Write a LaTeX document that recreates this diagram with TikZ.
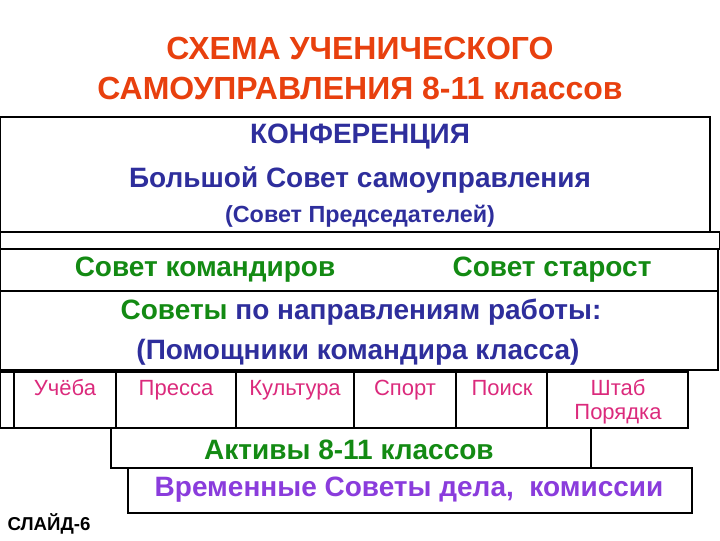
\documentclass[tikz,border=0pt]{standalone}
\usepackage{fontspec}
\setmainfont{Liberation Sans}
\usetikzlibrary{positioning}
\usepackage{xcolor}

\definecolor{titlered}{HTML}{E8400E}
\definecolor{confblue}{HTML}{2E2E9C}
\definecolor{sovgreen}{HTML}{138A13}
\definecolor{cellpink}{HTML}{DB2A7C}
\definecolor{tempviolet}{HTML}{8A3CDC}

\tikzset{
  frame/.style={draw=black, line width=1.2pt},
  heavyframe/.style={draw=black, line width=1.8pt},
  titletext/.style={text=titlered, font=\bfseries\fontsize{24}{28}\selectfont, inner sep=0pt},
  bigtext/.style={font=\bfseries\fontsize{21}{25}\selectfont, inner sep=0pt},
  smalltext/.style={font=\bfseries\fontsize{17.5}{20}\selectfont, inner sep=0pt},
  celltext/.style={text=cellpink, font=\fontsize{16.5}{18}\selectfont, align=center, anchor=base, inner sep=0pt}
}

\begin{document}
\begin{tikzpicture}[x=0.75pt,y=-0.75pt]
\useasboundingbox (0,0) rectangle (720,540);

% Title
\node[titletext] (title1) at (360,48) {СХЕМА УЧЕНИЧЕСКОГО};
\node[titletext] (title2) at (360,88) {САМОУПРАВЛЕНИЯ 8-11 классов};

% Conference box and empty strip
\draw[heavyframe] (0,117) rectangle (710,232);
\draw[frame] (0,232) rectangle (720,249);
\node[bigtext, text=confblue] (konf) at (360,137) {КОНФЕРЕНЦИЯ};
\node[bigtext, text=confblue] (bigsovet) at (360,180) {Большой Совет самоуправления};
\node[smalltext, text=confblue] (predsed) at (360,216) {(Совет Председателей)};

% Councils
\draw[frame] (0,249) rectangle (718,291);
\node[bigtext, text=sovgreen] (komand) at (205,270) {Совет командиров};
\node[bigtext, text=sovgreen] (starost) at (552,270) {Совет старост};

\draw[frame] (0,291) rectangle (718,370);
\node[bigtext, text=confblue] (napravl) at (361,312) {\textcolor{sovgreen}{Советы} по направлениям работы:};
\node[bigtext, text=confblue] (pomosh) at (358,352) {(Помощники командира класса)};

% Row of directions
\draw[heavyframe] (0,372) rectangle (688,428);
\foreach \x in {14,116,236,354,456,547}
  \draw[frame] (\x,372) -- (\x,428);
\foreach \cx/\cy/\nm/\txt in {65/395/ucheba/Учёба, 176/395/pressa/Пресса, 295/395/kultura/Культура,
    405/395/sport/Спорт, 502/395/poisk/Поиск, 618/419/shtab/{Штаб\\Порядка}}
  \node[celltext] (\nm) at (\cx,\cy) {\txt};

% Actives and temporary councils
\draw[heavyframe] (111,428) rectangle (591,468);
\node[bigtext, text=sovgreen] (aktivy) at (349,450) {Активы 8-11 классов};
\draw[heavyframe] (128,468) rectangle (692,513);
\node[bigtext, text=tempviolet] (vremen) at (409,490) {Временные Советы дела,\ \ комиссии};

\node[font=\bfseries\fontsize{14}{16}\selectfont, inner sep=0pt] (slide) at (49,524) {СЛАЙД-6};
\end{tikzpicture}
\end{document}
